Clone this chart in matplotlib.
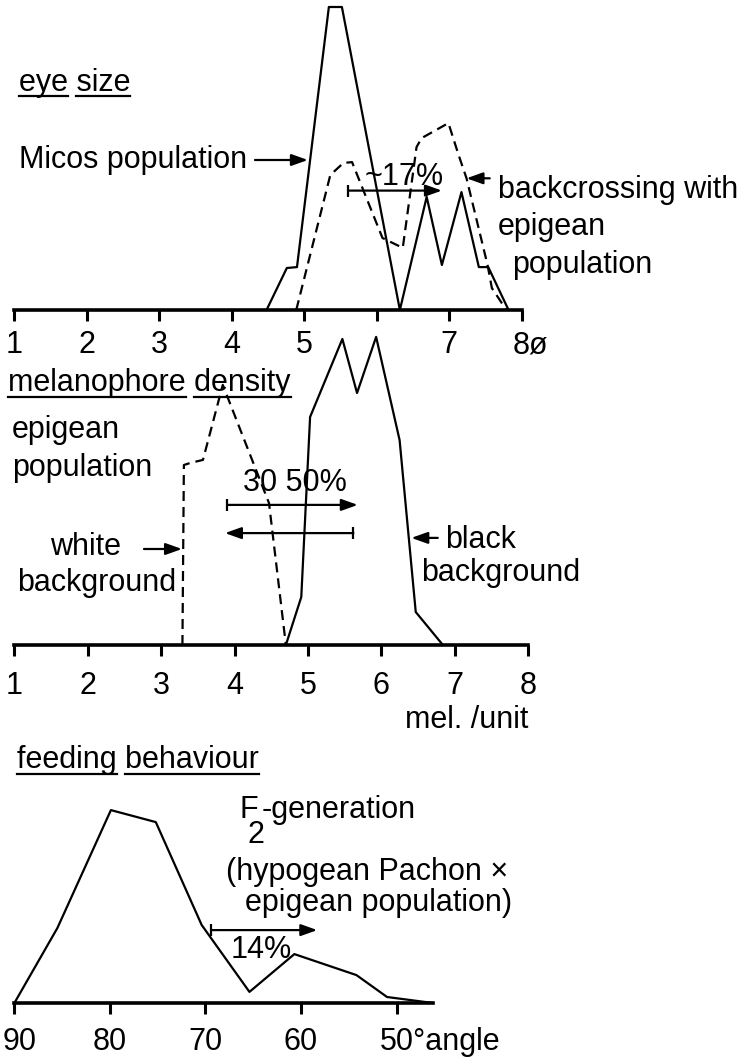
import matplotlib
matplotlib.use('Agg')
import matplotlib.pyplot as plt
from matplotlib.lines import Line2D
from matplotlib.transforms import ScaledTranslation

plt.rcParams['font.family'] = ['Liberation Sans', 'DejaVu Sans']
plt.rcParams['font.size'] = 22

# eye size (diameter classes) - Micos population and backcross
eye_x_micos = [4.48, 4.76, 4.90, 5.34, 5.52, 6.32, 6.69, 6.90, 7.17, 7.41, 7.54, 7.82]
eye_micos = [0, 14, 14.3, 101, 101, 0, 37.7, 15, 39.3, 14.3, 14.3, 0]
eye_x_back = [4.89, 5.36, 5.54, 5.66, 6.08, 6.36, 6.55, 6.62, 6.99, 7.13, 7.24, 7.53, 7.59, 7.79]
eye_back = [0, 45, 49, 49.3, 24, 20.7, 54.3, 57.3, 62.3, 51.7, 43.9, 15, 7.3, 0]
eye_ticks = [1, 2, 3, 4, 5, 6, 7, 8]
eye_ticklabels = ['1', '2', '3', '4', '5', '', '7', '8ø']

# melanophore density (mel./unit) - epigean population on black / white background
mel_x_black = [4.70, 4.91, 5.03, 5.47, 5.67, 5.93, 6.25, 6.47, 6.84]
mel_black = [0, 16, 76, 102, 84, 102.7, 68.3, 11, 0]
mel_x_white = [3.29, 3.31, 3.40, 3.57, 3.84, 4.47, 4.70]
mel_white = [0, 60, 60.7, 61.7, 86.7, 47.3, 0]
mel_ticks = [1, 2, 3, 4, 5, 6, 7, 8]
mel_ticklabels = ['1', '2', '3', '4', '5', '6', '7', '8']

# feeding behaviour (angle) - F2 generation
feed_angle = [90, 85.5, 79.9, 75.2, 70.4, 65.4, 60.7, 54.2, 51.0, 46.2]
feed_f2 = [0, 25, 64.3, 60.3, 26, 3.7, 16.3, 9.3, 2, 0]
feed_ticks = [90, 80, 70, 60, 50]
feed_ticklabels = ['90', '80', '70', '60', '50°angle']

W, H = 754, 1059
fig = plt.figure(figsize=(W / 100, H / 100), dpi=100)

LW = 1.6
DASH = (0, (4.5, 2.7))


def panel(x0, x1, base, top, xlim, ticks, labels, pad):
    ax = fig.add_axes([x0 / W, (H - base) / H, (x1 - x0) / W, (base - top) / H])
    ax.set_xlim(*xlim)
    ax.set_ylim(0, (base - top) / 3)
    for s in ['left', 'right', 'top']:
        ax.spines[s].set_visible(False)
    ax.spines['bottom'].set_linewidth(2.6)
    ax.set_yticks([])
    ax.set_xticks(ticks)
    ax.set_xticklabels(labels)
    ax.tick_params(axis='x', direction='out', length=8, width=2.2, labelsize=22, pad=pad)
    ax.patch.set_visible(False)
    return ax


def arrow(ax, x0, x1, y, bar=True):
    ax.annotate('', xy=(x1, y), xytext=(x0, y), annotation_clip=False,
                arrowprops=dict(arrowstyle='-|>,head_length=0.7,head_width=0.25',
                                color='k', lw=LW, shrinkA=0, shrinkB=0, mutation_scale=14))
    if bar:
        ax.plot([x0], [y], marker='|', ms=9, mew=LW, color='k', clip_on=False)


def shift_label(ax, idx, dx_px, left=True):
    lab = ax.get_xticklabels()[idx]
    if left:
        lab.set_ha('left')
    lab.set_transform(lab.get_transform() + ScaledTranslation(dx_px / 100, 0, fig.dpi_scale_trans))


# --- eye size ---
a1 = panel(14.4, 521.6, 310, 0, (1, 8), eye_ticks, eye_ticklabels, 6.5)
a1.plot(eye_x_micos, eye_micos, color='k', lw=LW, clip_on=False)
a1.plot(eye_x_back, eye_back, color='k', lw=LW, ls=DASH, clip_on=False)
shift_label(a1, 7, -8.5)
t1 = a1.text(1.06, 75.7, 'eye size', va='center')
a1.text(1.06, 50, 'Micos population', va='center')
arrow(a1, 4.32, 5.05, 50, bar=False)
a1.text(5.84, 44.3, '~17%', va='center')
arrow(a1, 5.61, 6.90, 39.8)
a1.text(7.67, 40, 'backcrossing with', va='center')
arrow(a1, 7.56, 7.24, 43.9, bar=False)
a1.text(7.67, 27.7, 'epigean', va='center')
a1.text(7.87, 15, 'population', va='center')

# --- melanophore density ---
a2 = panel(14.4, 528, 645, 330, (1, 8), mel_ticks, mel_ticklabels, 11)
a2.plot(mel_x_black, mel_black, color='k', lw=LW, clip_on=False)
a2.plot(mel_x_white, mel_white, color='k', lw=LW, ls=DASH, clip_on=False)
t2 = a2.text(0.913, 87.3, 'melanophore density', va='center')
a2.text(0.967, 71.7, 'epigean', va='center')
a2.text(0.967, 59, 'population', va='center')
a2.text(4.115, 54, '30 50%', va='center')
arrow(a2, 3.90, 5.68, 46.7)
arrow(a2, 5.62, 3.87, 37.3)
a2.text(1.485, 32.7, 'white', va='center')
arrow(a2, 2.766, 3.284, 32, bar=False)
a2.text(1.035, 20.7, 'background', va='center')
a2.text(6.87, 35, 'black', va='center')
arrow(a2, 6.77, 6.41, 35.7, bar=False)
a2.text(6.54, 24, 'background', va='center')
a2.text(6.33, -25, 'mel. /unit', va='center')

# --- feeding behaviour ---
a3 = panel(14.4, 432.9, 1003, 780, (90, 46.2), feed_ticks, feed_ticklabels, 9.5)
a3.plot(feed_angle, feed_f2, color='k', lw=LW, clip_on=False)
shift_label(a3, 0, 5, left=False)
shift_label(a3, 4, -17)
t3 = a3.text(89.73, 81, 'feeding behaviour', va='center')
a3.text(66.39, 64.3, 'F', va='center')
a3.text(64.7, 56, '2', va='center', ha='center')
a3.text(64.09, 64.3, '-generation', va='center')
a3.text(67.87, 43.7, '(hypogean Pachon ×', va='center')
a3.text(65.88, 33.3, 'epigean population)', va='center')
arrow(a3, 69.4, 58.3, 24.3)
a3.text(67.33, 17.7, '14%', va='center')

# underline the panel titles word by word
fig.canvas.draw()
renderer = fig.canvas.get_renderer()
inv = fig.transFigure.inverted()


def width(s, fp):
    if not s:
        return 0
    return renderer.get_text_width_height_descent(s, fp, ismath=False)[0]


for t in [t1, t2, t3]:
    bb = t.get_window_extent(renderer)
    s = t.get_text()
    fp = t.get_fontproperties()
    y = bb.y0 + 1.5
    i = 0
    for word in s.split(' '):
        xa = bb.x0 + width(s[:i], fp)
        xb = bb.x0 + width(s[:i + len(word)], fp)
        (fx0, fy), (fx1, _) = inv.transform([(xa, y), (xb, y)])
        fig.add_artist(Line2D([fx0, fx1], [fy, fy], color='k', lw=LW))
        i += len(word) + 1

fig.savefig('out.png', dpi=100)
